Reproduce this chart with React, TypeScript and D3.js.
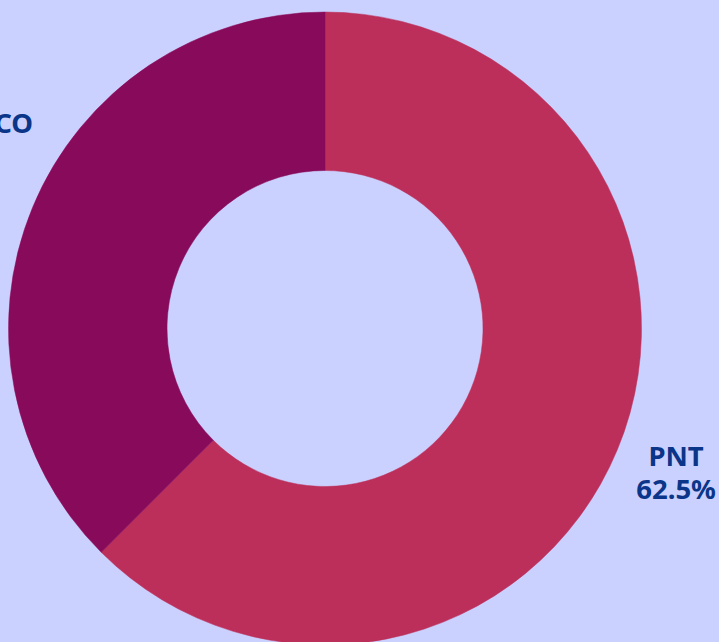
import React from 'react'
import * as d3 from 'd3'

const categories = ['PNT', 'CO']
const shares = [62.5, 37.5]
const colors = ['#bc2f5a', '#880a5a']

const width = 719
const height = 642
const cx = 325
const cy = 328.5
const outerR = 316.5
const innerR = 158
const labelR = 380

export default function App() {
  const pie = d3.pie<number>().sort(null).value(d => d)
  const arcs = pie(shares)
  const arc = d3.arc<d3.PieArcDatum<number>>().innerRadius(innerR).outerRadius(outerR)
  const labelArc = d3.arc<d3.PieArcDatum<number>>().innerRadius(labelR).outerRadius(labelR)

  return (
    <svg
      width={width}
      height={height}
      style={{ position: 'fixed', left: 0, top: 0, background: '#cbd1fe' }}
      fontFamily="'Noto Sans', sans-serif"
      fontWeight="bold"
    >
      <rect width={width} height={height} fill="#cbd1fe" />
      <g transform={`translate(${cx} ${cy})`}>
        {arcs.map((a, i) => (
          <path key={categories[i]} d={arc(a) ?? ''} fill={colors[i]} stroke={colors[i]} strokeWidth={0.5} />
        ))}
        {arcs.map((a, i) => {
          const [lx, ly] = labelArc.centroid(a)
          if (lx < 0) {
            // left label is clipped by the frame, only the end of its name shows
            return (
              <text key={categories[i]} x={33 - cx} y={133 - cy} textAnchor="end" fontSize={27.5} fill="#0a3589">
                {categories[i]}
              </text>
            )
          }
          return (
            <text key={categories[i]} x={lx} y={ly} textAnchor="middle" fontSize={27.5} fill="#0a3589">
              <tspan x={lx} dy={-8}>{categories[i]}</tspan>
              <tspan x={lx} dy={33}>{`${shares[i]}%`}</tspan>
            </text>
          )
        })}
      </g>
    </svg>
  )
}
